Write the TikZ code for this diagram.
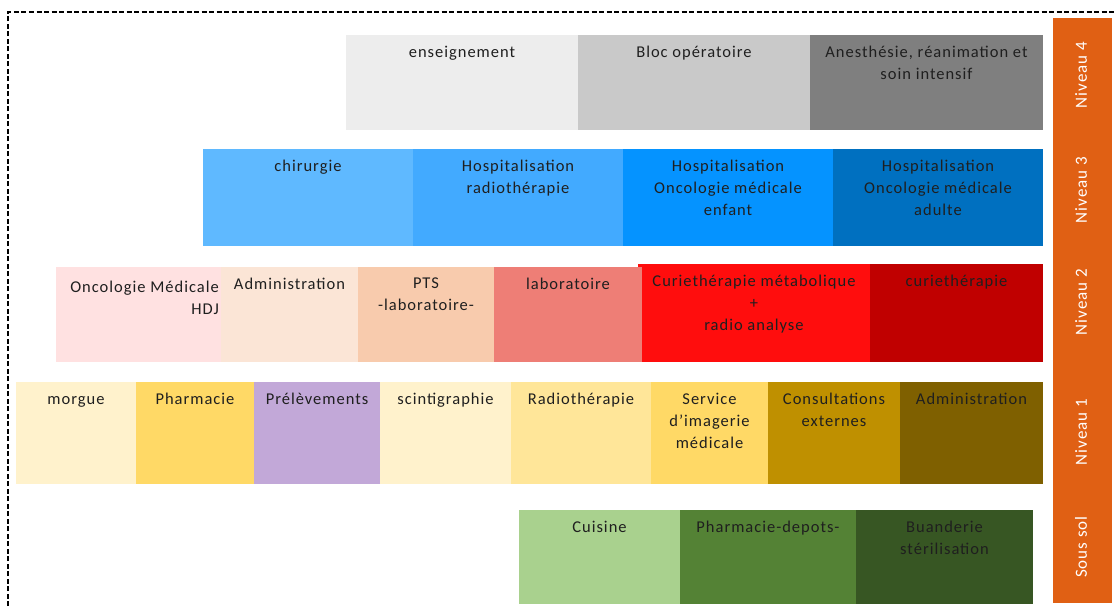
\documentclass[tikz,border=0pt]{standalone}
\usepackage{fontspec}
\setmainfont{Carlito}[LetterSpace=6]
\begin{document}
\begin{tikzpicture}[x=1pt,y=-1pt,
  txt/.style={anchor=north,inner sep=0pt,align=center,text=txtc,
    font=\fontsize{16.5}{22}\selectfont,execute at begin node=\strut},
  side/.style={rotate=90,text=white,inner sep=0pt,font=\fontsize{17}{18}\selectfont},
  frame/.style={line width=1.3pt,dash pattern=on 5pt off 2.5pt}]
\definecolor{txtc}{HTML}{1F1F1F}
\definecolor{cEns}{HTML}{EDEDED}
\definecolor{cBloc}{HTML}{C9C9C9}
\definecolor{cAne}{HTML}{7F7F7F}
\definecolor{cChir}{HTML}{5FB9FF}
\definecolor{cHRad}{HTML}{42AAFF}
\definecolor{cHEnf}{HTML}{0593FF}
\definecolor{cHAdu}{HTML}{0070C0}
\definecolor{cOnco}{HTML}{FFE1E1}
\definecolor{cAdmB}{HTML}{FBE5D6}
\definecolor{cPTS}{HTML}{F8CBAD}
\definecolor{cLabo}{HTML}{EE7E76}
\definecolor{cCMet}{HTML}{FF0D0D}
\definecolor{cCur}{HTML}{C00000}
\definecolor{cMorg}{HTML}{FFF2CC}
\definecolor{cPhar}{HTML}{FFD966}
\definecolor{cPrel}{HTML}{C2A8D8}
\definecolor{cScin}{HTML}{FFF2CC}
\definecolor{cRad}{HTML}{FFE699}
\definecolor{cServ}{HTML}{FFD966}
\definecolor{cCons}{HTML}{BF9000}
\definecolor{cAdmA}{HTML}{7F6000}
\definecolor{cCuis}{HTML}{A9D18E}
\definecolor{cPDep}{HTML}{548235}
\definecolor{cBuan}{HTML}{375623}
\definecolor{cOrange}{HTML}{E06014}
\useasboundingbox (0,0) rectangle (1115,606);
\newcommand\room[8][-7pt]{%
  \path[fill=#7] (#3,#4) rectangle (#5,#6);
  \node[txt,yshift=#1] (#2) at ({(#3+#5)/2},#4) {#8};}
% frame
\coordinate (fA) at (8,606);
\coordinate (fB) at (8,12);
\coordinate (fC) at (1115,12);
\draw[frame] (fA) -- (fB) -- (fC);
% Niveau 4
\room{ens}{346}{35}{578}{130}{cEns}{enseignement}
\room{bloc}{578}{35}{810}{130}{cBloc}{Bloc opératoire}
\room[-11pt]{ane}{810}{35}{1043}{130}{cAne}{Anesthésie, réanimation et\\soin intensif}
% Niveau 3
\room{chir}{203}{149}{413}{246}{cChir}{chirurgie}
\room[-11pt]{hrad}{413}{149}{623}{246}{cHRad}{Hospitalisation\\radiothérapie}
\room[-11pt]{henf}{623}{149}{833}{246}{cHEnf}{Hospitalisation\\Oncologie médicale\\enfant}
\room[-11pt]{hadu}{833}{149}{1043}{246}{cHAdu}{Hospitalisation\\Oncologie médicale\\adulte}
% Niveau 2
\path[fill=cOnco] (56,267) rectangle (221,362);
\node[txt,anchor=north east,align=right,yshift=-14pt] (onco) at (219,267) {Oncologie Médicale\\HDJ};
\room{admb}{221}{267}{358}{362}{cAdmB}{Administration}
\room[-11pt]{pts}{358}{267}{494}{362}{cPTS}{PTS\\-laboratoire-}
\room[-11pt]{cmet}{638}{264}{870}{362}{cCMet}{Curiethérapie métabolique\\+\\radio analyse}
\room{labo}{494}{267}{642}{362}{cLabo}{laboratoire}
\room{cur}{870}{264}{1043}{362}{cCur}{curiethérapie}
% Niveau 1
\room{morg}{16}{382}{136}{484}{cMorg}{morgue}
\room{phar}{136}{382}{254}{484}{cPhar}{Pharmacie}
\room{prel}{254}{382}{380}{484}{cPrel}{Prélèvements}
\room{scin}{380}{382}{511}{484}{cScin}{scintigraphie}
\room{rad}{511}{382}{651}{484}{cRad}{Radiothérapie}
\room[-11pt]{serv}{651}{382}{768}{484}{cServ}{Service\\d’imagerie\\médicale}
\room[-11pt]{cons}{768}{382}{900}{484}{cCons}{Consultations\\externes}
\room{adma}{900}{382}{1043}{484}{cAdmA}{Administration}
% Sous sol
\room{cuis}{519}{510}{680}{604}{cCuis}{Cuisine}
\room{pdep}{680}{510}{856}{604}{cPDep}{Pharmacie-depots-}
\room[-11pt]{buan}{856}{510}{1033}{604}{cBuan}{Buanderie\\stérilisation}
% orange bar
\path[fill=cOrange] (1053,18) rectangle (1112,603);
\node[side] (n4) at (1081,75) {Niveau 4};
\node[side] (n3) at (1081,190) {Niveau 3};
\node[side] (n2) at (1081,302) {Niveau 2};
\node[side] (n1) at (1081,432) {Niveau 1};
\node[side] (n0) at (1081,547) {Sous sol};
\end{tikzpicture}
\end{document}
